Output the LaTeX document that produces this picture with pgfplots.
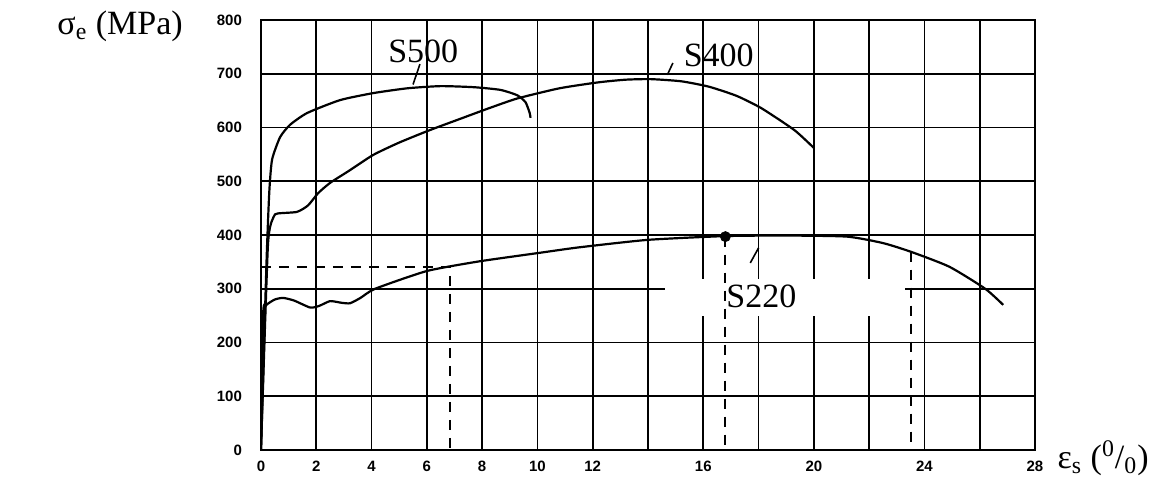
\documentclass[border=0pt]{standalone}
\usepackage{fontspec}
\setmainfont{Liberation Serif}
\newfontfamily\tickfont{Liberation Sans}
\usepackage{pgfplots}
\pgfplotsset{compat=1.18}
\begin{document}
\begin{tikzpicture}
\useasboundingbox (-130.5pt,-18.5pt) rectangle (448.5pt,225pt);
\begin{axis}[
  at={(0,0)}, anchor=south west,
  width=387pt, height=215pt, scale only axis,
  xmin=0, xmax=28, ymin=0, ymax=800,
  xtick={0,2,...,28},
  xticklabels={0,2,4,6,8,10,12,,16,,20,,24,,28},
  ytick={0,100,...,800},
  grid=major,
  major grid style={black, line width=0.8pt},
  axis line style={black, line width=1pt},
  major tick length=0pt,
  tick label style={font=\tickfont\bfseries\fontsize{7.5}{9}\selectfont},
  /pgf/number format/assume math mode=true,
  yticklabel style={xshift=-6pt},
  xticklabel style={yshift=-2pt},
  ylabel={σ\textsubscript{e} (MPa)},
  ylabel style={rotate=-90, at={(axis description cs:-0.182,0.985)}, anchor=center, font=\fontsize{17}{20}\selectfont},
  xlabel={ε\textsubscript{s} (\textsuperscript{0}/\textsubscript{0})},
  xlabel style={at={(axis description cs:1.088,-0.019)}, anchor=center, font=\fontsize{17}{20}\selectfont},
  curve/.style={black, mark=none, line width=1.1pt, line join=round, smooth, tension=0.35},
  guide/.style={black, mark=none, line width=0.9pt, dash pattern=on 5pt off 4pt},
  leader/.style={black, mark=none, line width=0.8pt},
]
% gap in the grid behind the S220 label
\fill[white] (axis cs:14.6,250) rectangle (axis cs:23.3,318);

% S500
\addplot[curve] coordinates {(0,0) (0.2,350) (0.3,480) (0.4,540) (0.69,582) (1.05,605) (1.67,627)
  (2.86,651) (4.06,664) (5.3,673) (6.5,677) (7.7,675) (8.66,670) (9.27,660) (9.57,647)
  (9.72,627) (9.75,618)};
% S400
\addplot[curve] coordinates {(0,0) (0.25,380) (0.45,433) (0.6,440) (1.3,443) (1.7,455) (2.07,478)
  (2.5,497) (3.2,520) (4.06,549) (5,572) (6.1,595) (7.2,616) (8.2,635) (9.27,654)
  (10.8,673) (12.2,684) (13.2,689) (14.1,690) (15.2,686) (16.2,676) (17.2,659)
  (18.1,636) (19.3,595) (20.0,562)};
% S220
\addplot[curve] coordinates {(0,0) (0.08,255) (0.2,270) (0.5,280) (0.8,283) (1.2,278) (1.78,265)
  (2.1,268) (2.5,277) (2.9,274) (3.22,273) (3.6,283) (4.13,300) (6.0,333) (7.9,351)
  (10.1,367) (11.5,377) (14.0,391) (16.8,398) (19,399) (21.2,397) (22.5,385) (23.5,369)
  (24.9,341) (26.2,300) (26.85,270)};

% dashed guides
\addplot[guide] coordinates {(0,340) (6.85,340) (6.85,0)};
\addplot[guide] coordinates {(16.8,397) (16.8,0)};
\addplot[guide] coordinates {(23.5,369) (23.5,0)};
\addplot[black, only marks, mark=*, mark size=2.5pt] coordinates {(16.8,397)};

% leaders
\addplot[leader] coordinates {(5.75,718) (5.5,680)};
\addplot[leader] coordinates {(14.9,720) (14.7,698)};
\addplot[leader] coordinates {(17.7,348) (18.0,376)};

\node[font=\fontsize{17}{20}\selectfont] at (axis cs:5.87,742) {S500};
\node[font=\fontsize{17}{20}\selectfont] at (axis cs:16.56,735) {S400};
\node[font=\fontsize{17}{20}\selectfont] at (axis cs:18.1,285) {S220};
\end{axis}
\end{tikzpicture}
\end{document}
